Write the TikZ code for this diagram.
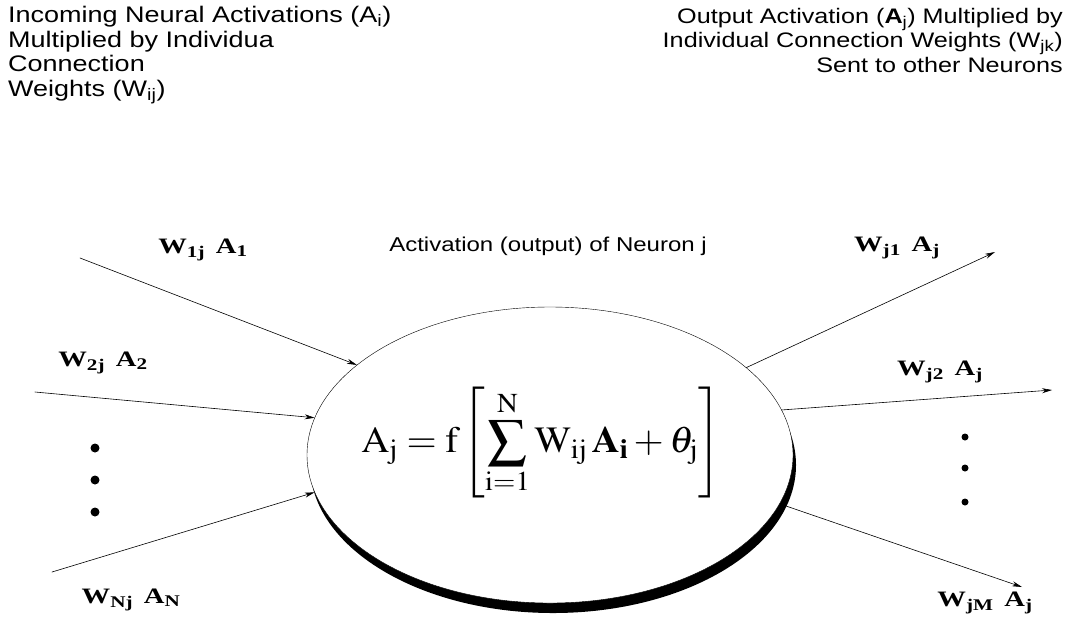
\documentclass[tikz,border=0pt]{standalone}
\usepackage{mathptmx}
\usepackage{fontspec}
\setmainfont{Liberation Serif}
\setsansfont{Liberation Sans}
\newfontfamily\headfont[FakeStretch=1.2]{Liberation Sans}
\newfontfamily\labfont[FakeStretch=1.3]{Liberation Serif}
\usetikzlibrary{shapes.geometric,arrows.meta,positioning}

\begin{document}
\begin{tikzpicture}[x=1pt,y=-1pt,line join=round,line cap=round,
  wire/.style={semithick,-{Stealth[length=10pt,width=5pt]}},
  wlab/.style={font=\labfont\bfseries\fontsize{22}{24}\selectfont,inner sep=1pt},
  head/.style={font=\headfont\fontsize{21}{24.5}\selectfont,inner sep=0pt}]
\useasboundingbox (0,0) rectangle (1070,625);
% headings
\node[head,font=\headfont\fontsize{22.5}{24.5}\selectfont,align=left,anchor=north west] (inhead) at (8,6) {Incoming Neural Activations (A\textsubscript{i})\\Multiplied by Individua\\Connection\\Weights (W\textsubscript{ij})};
\node[head,align=right,anchor=north east] (outhead) at (1063,8) {Output Activation (\textbf{A}\textsubscript{j}) Multiplied by\\Individual Connection Weights (W\textsubscript{jk})\\Sent to other Neurons};
% neuron body with its dark lower rim
\fill (553,465) ellipse [x radius=243pt, y radius=148pt];
\node[ellipse,draw,thin,fill=white,minimum width=486pt,minimum height=296pt,inner sep=0pt] (neuron) at (550,455) {};
\node[font=\fontsize{37}{44}\selectfont,inner sep=0pt] (rule) at (541,443) {\scalebox{1.05}[1]{$\displaystyle \mathrm{A}_{\mathrm{j}}=\mathrm{f}\left[\sum_{\mathrm{i}=1}^{\mathrm{N}}\mathrm{W}_{\mathrm{ij}}\,\mathbf{A}_{\mathbf{i}}+\theta_{\mathrm{j}}\right]$}};
\node[font=\headfont\fontsize{20}{22}\selectfont,inner sep=0pt] (actlab) at (548,246) {Activation (output) of Neuron j};
% incoming connections
\coordinate (in1) at (80,258);
\coordinate (in2) at (35,392);
\coordinate (in3) at (52,572);
\draw[wire] (in1) -- (neuron.155.8);
\draw[wire] (in2) -- (neuron.171.2);
\draw[wire] (in3) -- (neuron.189.8);
\node[wlab] (w1) at (203,250) {W\textsubscript{1j}\, A\textsubscript{1}};
\node[wlab] (w2) at (103,363) {W\textsubscript{2j}\, A\textsubscript{2}};
\node[wlab] (wn) at (131,600) {W\textsubscript{Nj}\, A\textsubscript{N}};
\foreach \y in {448,480,512}{\fill (95,\y) circle (4.5pt);}
% outgoing connections
\coordinate (out1) at (995,252);
\coordinate (out2) at (1052,390);
\coordinate (out3) at (1022,587);
\draw[wire] (neuron.24) -- (out1);
\draw[wire] (neuron.11.1) -- (out2);
\draw[wire] (neuron.348.2) -- (out3);
\node[wlab] (v1) at (897,248) {W\textsubscript{j1}\, A\textsubscript{j}};
\node[wlab] (v2) at (940,372) {W\textsubscript{j2}\, A\textsubscript{j}};
\node[wlab] (vm) at (985,603) {W\textsubscript{jM}\, A\textsubscript{j}};
\foreach \y in {437,468,502}{\fill (965,\y) circle (3.5pt);}
\end{tikzpicture}
\end{document}
